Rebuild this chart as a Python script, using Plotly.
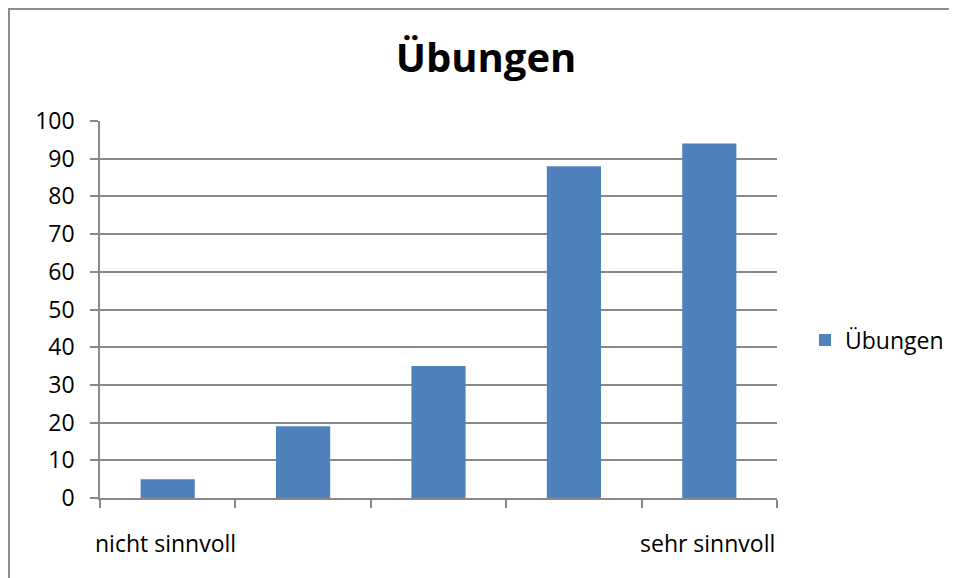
import plotly.graph_objects as go

categories = ["nicht sinnvoll", "", "", "", "sehr sinnvoll"]
values = [5, 19, 35, 88, 94]
series_name = "Übungen"
title_text = "Übungen"
y_ticks = [0, 10, 20, 30, 40, 50, 60, 70, 80, 90, 100]

# page has an 8px body margin; figure coordinates below are relative to the figure
OFF = 8
W, H = 957 - OFF, 578 - OFF
L, R, T, B = 100 - OFF, 957 - 777, 121 - OFF, 578 - 498
pw, ph = W - L - R, H - T - B

def px(x):  # page x -> paper
    return (x - OFF - L) / pw

def py(y):  # page y -> paper
    return (H - B - (y - OFF)) / ph

font_fam = "Open Sans, Liberation Sans, sans-serif"
grid_col = "#898989"
fs = 23

xs = list(range(len(categories)))
fig = go.Figure()
fig.add_trace(go.Bar(
    x=xs, y=values, name=series_name, width=0.4,
    marker=dict(color="#4F81BD", line=dict(width=0)),
    showlegend=True,
))

fig.update_layout(
    width=W, height=H,
    margin=dict(l=L, r=R, t=T, b=B, pad=0, autoexpand=False),
    paper_bgcolor="white", plot_bgcolor="white",
    title=dict(text="<b>" + title_text + "</b>", x=(486 - OFF) / W, xanchor="center",
               y=1 - (58 - OFF) / H, yanchor="middle",
               font=dict(family=font_fam, size=40, color="black")),
    font=dict(family=font_fam, size=fs, color="black"),
    showlegend=True,
    legend=dict(x=px(805), y=py(340), xanchor="left", yanchor="middle",
                font=dict(family=font_fam, size=fs, color="black"),
                bgcolor="rgba(0,0,0,0)", itemwidth=30),
    xaxis=dict(range=[-0.5, len(categories) - 0.5],
               tickmode="array",
               tickvals=[i - 0.5 for i in range(len(categories) + 1)],
               ticktext=[""] * (len(categories) + 1),
               ticks="outside", ticklen=8, tickcolor=grid_col, tickwidth=1.5,
               showline=True, linecolor=grid_col, linewidth=1.5,
               showgrid=False, zeroline=False, fixedrange=True),
    yaxis=dict(range=[0, 100], tickmode="array", tickvals=y_ticks,
               ticktext=[str(v) for v in y_ticks],
               ticks="outside", ticklen=8, tickcolor=grid_col, tickwidth=1.5,
               ticklabelstandoff=11,
               showline=True, linecolor=grid_col, linewidth=1.5,
               showgrid=True, gridcolor=grid_col, gridwidth=1.5,
               zeroline=False, fixedrange=True,
               tickfont=dict(family=font_fam, size=fs, color="black")),
)

for i, c in enumerate(categories):
    if c:
        fig.add_annotation(x=i, y=py(543), xref="x", yref="paper", text=c,
                           showarrow=False, xanchor="center", yanchor="middle",
                           xshift=-2,
                           font=dict(family=font_fam, size=fs, color="black"))

fig.add_shape(type="rect", xref="paper", yref="paper",
              x0=px(9), y0=py(600), x1=px(990), y1=py(9),
              line=dict(color="#8c8c8c", width=2), fillcolor="rgba(0,0,0,0)",
              layer="below")

fig.write_html("out.html")
